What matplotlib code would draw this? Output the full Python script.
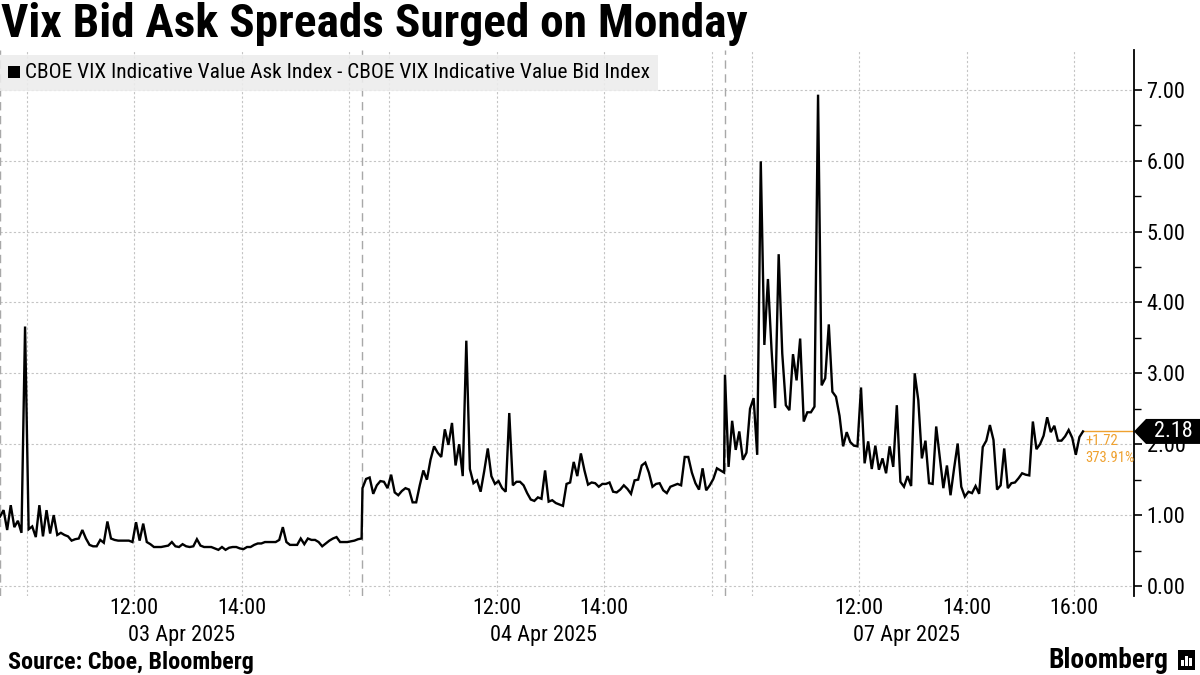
import matplotlib
matplotlib.use("Agg")
import matplotlib.pyplot as plt
import matplotlib.transforms as mtransforms
from matplotlib.patches import Rectangle, Polygon
from matplotlib import font_manager
import numpy as np

# ---------------- data ----------------
day_labels = ["03 Apr 2025", "04 Apr 2025", "07 Apr 2025"]
time_ticks = [["12:00", "14:00"], ["12:00", "14:00"], ["12:00", "14:00", "16:00"]]
series_name = "CBOE VIX Indicative Value Ask Index - CBOE VIX Indicative Value Bid Index"

# spread sampled every 4 minutes from 09:30 on each session
day1 = [0.98, 1.07, 0.79, 1.14, 0.83, 0.92, 0.75, 3.66, 0.80, 0.84,
        0.69, 1.14, 0.70, 1.07, 0.74, 1.00, 0.72, 0.75, 0.72, 0.70,
        0.64, 0.66, 0.67, 0.79, 0.67, 0.58, 0.56, 0.56, 0.65, 0.61,
        0.91, 0.67, 0.65, 0.64, 0.64, 0.64, 0.64, 0.62, 0.90, 0.64,
        0.88, 0.62, 0.59, 0.55, 0.55, 0.55, 0.56, 0.57, 0.62, 0.56,
        0.55, 0.59, 0.56, 0.55, 0.56, 0.66, 0.57, 0.55, 0.55, 0.55,
        0.53, 0.51, 0.55, 0.51, 0.54, 0.55, 0.55, 0.53, 0.52, 0.55,
        0.55, 0.58, 0.60, 0.60, 0.62, 0.62, 0.62, 0.62, 0.65, 0.83,
        0.62, 0.58, 0.58, 0.58, 0.67, 0.59, 0.67, 0.65, 0.65, 0.62,
        0.56, 0.60, 0.64, 0.67, 0.69, 0.62, 0.62, 0.62, 0.63, 0.64,
        0.66, 0.67]
day2 = [1.38, 1.51, 1.53, 1.30, 1.42, 1.48, 1.47, 1.38, 1.57, 1.32,
        1.28, 1.34, 1.38, 1.36, 1.18, 1.18, 1.42, 1.63, 1.50, 1.78,
        1.97, 1.88, 1.82, 2.21, 1.99, 2.30, 1.70, 2.00, 1.55, 3.46,
        1.65, 1.45, 1.49, 1.33, 1.62, 1.94, 1.55, 1.44, 1.48, 1.38,
        1.33, 2.44, 1.42, 1.47, 1.47, 1.42, 1.31, 1.22, 1.20, 1.25,
        1.23, 1.63, 1.19, 1.21, 1.17, 1.15, 1.13, 1.44, 1.46, 1.75,
        1.55, 1.87, 1.63, 1.43, 1.46, 1.45, 1.40, 1.44, 1.44, 1.46,
        1.33, 1.32, 1.36, 1.42, 1.37, 1.30, 1.49, 1.50, 1.70, 1.74,
        1.60, 1.40, 1.44, 1.45, 1.35, 1.31, 1.40, 1.42, 1.44, 1.42,
        1.82, 1.82, 1.60, 1.45, 1.36, 1.66, 1.35, 1.42, 1.51, 1.66,
        1.63, 1.60]
day3 = [2.98, 1.68, 2.33, 1.92, 2.18, 1.78, 1.88, 2.50, 2.65, 1.85,
        5.99, 3.40, 4.33, 3.34, 2.51, 4.68, 3.28, 2.55, 2.48, 3.27,
        2.90, 3.49, 2.32, 2.45, 2.45, 2.53, 6.93, 2.83, 2.93, 3.69,
        2.74, 2.67, 2.40, 1.97, 2.17, 2.03, 1.98, 1.97, 2.80, 1.73,
        2.04, 1.65, 1.98, 1.64, 1.80, 1.59, 1.97, 1.68, 2.55, 1.47,
        1.40, 1.55, 1.41, 3.00, 2.62, 1.80, 2.05, 1.45, 1.44, 2.25,
        1.82, 1.38, 1.70, 1.28, 1.66, 2.01, 1.40, 1.26, 1.33, 1.31,
        1.41, 1.30, 1.96, 2.05, 2.27, 2.06, 1.36, 1.42, 1.94, 1.38,
        1.45, 1.46, 1.52, 1.59, 1.57, 1.56, 2.32, 1.93, 2.00, 2.12,
        2.38, 2.17, 2.26, 2.05, 2.05, 2.11, 2.20, 2.09, 1.85, 2.10,
        2.18]
change_text = "+1.72"
pct_text = "373.91%"

# ---------------- fonts ----------------
fm = font_manager.fontManager
names = {f.name for f in fm.ttflist}
STRETCH = "normal"
if "Liberation Sans Narrow" in names:
    FONT = "Liberation Sans Narrow"
elif "Roboto Condensed" in names:
    FONT = "Roboto Condensed"
elif any(f.name == "DejaVu Sans" and str(f.stretch) in ("condensed", "semi-condensed") for f in fm.ttflist):
    FONT = "DejaVu Sans"
    STRETCH = "condensed"
else:
    FONT = "Liberation Sans"
plt.rcParams["font.family"] = [FONT, "DejaVu Sans"]
plt.rcParams["font.stretch"] = STRETCH

# ---------------- layout helpers ----------------
W, H = 1200, 675
SESSION = 405   # minutes 09:30-16:15
STEP = 4
OPEN = 9 * 60 + 30


def sx(day, hh, mm=0):
    return day * SESSION + hh * 60 + mm - OPEN


days = [day1, day2, day3]
x = np.concatenate([k * SESSION + STEP * np.arange(len(v)) for k, v in enumerate(days)])
y = np.concatenate([np.array(v) for v in days])

fig = plt.figure(figsize=(12, 6.75), dpi=100)
ax = fig.add_axes([0, 1 - 596 / H, 1134 / W, 546 / H])
ax.set_xlim(0, 1267)
ax.set_ylim(-0.141, 7.56)

for s in ("left", "top", "bottom"):
    ax.spines[s].set_visible(False)
ax.spines["right"].set_color("black")
ax.spines["right"].set_linewidth(1.3)

# grid
grid_c = "#c4c4c4"
for v in range(0, 8):
    ax.axhline(v, color=grid_c, lw=0.8, ls=(0, (2, 2)), zorder=1)
for k in range(3):
    for hh in (10, 12, 14, 16):
        ax.axvline(sx(k, hh), color=grid_c, lw=0.8, ls=(0, (2, 2)), zorder=1)
    ax.axvline(k * SESSION, color="#a8a8a8", lw=1.0, ls=(0, (6, 4)), zorder=1)

ax.plot(x, y, color="black", lw=1.7, zorder=3, solid_joinstyle="miter")

# y axis
ax.yaxis.tick_right()
ax.set_yticks(range(0, 8))
ax.set_yticklabels([f"{v:.2f}" for v in range(0, 8)])
ax.set_yticks(np.arange(0.5, 7.5, 1.0), minor=True)
ax.tick_params(axis="y", which="major", direction="out", length=6, width=1.2,
               labelsize=16, pad=3, colors="black")
ax.tick_params(axis="y", which="minor", direction="out", length=5, width=1.0, colors="black")
ax.set_xticks([])

# x labels
for k in range(3):
    for lab in time_ticks[k]:
        hh, mm = map(int, lab.split(":"))
        ax.annotate(lab, xy=(sx(k, hh, mm), 0), xycoords=("data", "axes fraction"),
                    xytext=(0, -13 * 0.72), textcoords="offset points",
                    ha="center", va="center", fontsize=16)
    ax.annotate(day_labels[k], xy=(k * SESSION + SESSION / 2, 0),
                xycoords=("data", "axes fraction"),
                xytext=(0, -39 * 0.72), textcoords="offset points",
                ha="center", va="center", fontsize=16)

# last value marker
last = y[-1]
orange = "#EFA12F"
ax.plot([x[-1], ax.get_xlim()[1]], [last, last], color=orange, lw=1.0, zorder=2, clip_on=False)
ax.text(1213, 2.04, change_text, color=orange, fontsize=10.5, ha="left", va="center")
ax.text(1213, 1.80, pct_text, color=orange, fontsize=10.5, ha="left", va="center")

bt = mtransforms.blended_transform_factory(fig.transFigure, ax.transData)
hh_ = 12.5 / 70.9
poly = Polygon([(1134 / W, last), (1146 / W, last + hh_), (1.0, last + hh_),
                (1.0, last - hh_), (1146 / W, last - hh_)], closed=True,
               transform=bt, facecolor="black", edgecolor="none", zorder=5)
fig.add_artist(poly)
fig.text(1173 / W, last, f"{last:.2f}", transform=bt, color="white", fontsize=16,
         ha="center", va="center", zorder=6)

# legend box
fig.add_artist(Rectangle((0, 1 - 91 / H), 658 / W, 36 / H, transform=fig.transFigure,
                         facecolor="#ececec", alpha=0.88, edgecolor="none", zorder=4))
fig.add_artist(Rectangle((8 / W, 1 - 78 / H), 12 / W, 12 / H, transform=fig.transFigure,
                         facecolor="black", edgecolor="none", zorder=5))
leg = fig.text(25 / W, 1 - 72.5 / H, series_name, fontsize=13, ha="left", va="center", zorder=6)

# title and footer
title = fig.text(1 / W, 1 - 24 / H, "Vix Bid Ask Spreads Surged on Monday", fontsize=28,
                 fontweight="bold", ha="left", va="center")
src = fig.text(8 / W, 1 - 662 / H, "Source: Cboe, Bloomberg", fontsize=13,
               fontweight="bold", ha="left", va="center")
brand = fig.text(1168 / W, 1 - 660 / H, "Bloomberg", fontsize=16, fontweight="bold",
                 ha="right", va="center")
fig.add_artist(Rectangle((1178 / W, 1 - 670 / H), 17 / W, 20 / H, transform=fig.transFigure,
                         facecolor="black", edgecolor="none"))
for i, hb in enumerate((6, 10, 8)):
    fig.add_artist(Rectangle(((1181 + 4 * i) / W, 1 - 666 / H), 2.5 / W, hb / H,
                             transform=fig.transFigure, facecolor="white", edgecolor="none"))

# fit text widths to the reference
fig.canvas.draw()
r = fig.canvas.get_renderer()
for t, wpx in ((title, 748), (leg, 623), (src, 244), (brand, 120)):
    w = t.get_window_extent(r).width
    t.set_fontsize(t.get_fontsize() * wpx / w)

fig.savefig("out.png", dpi=100)
